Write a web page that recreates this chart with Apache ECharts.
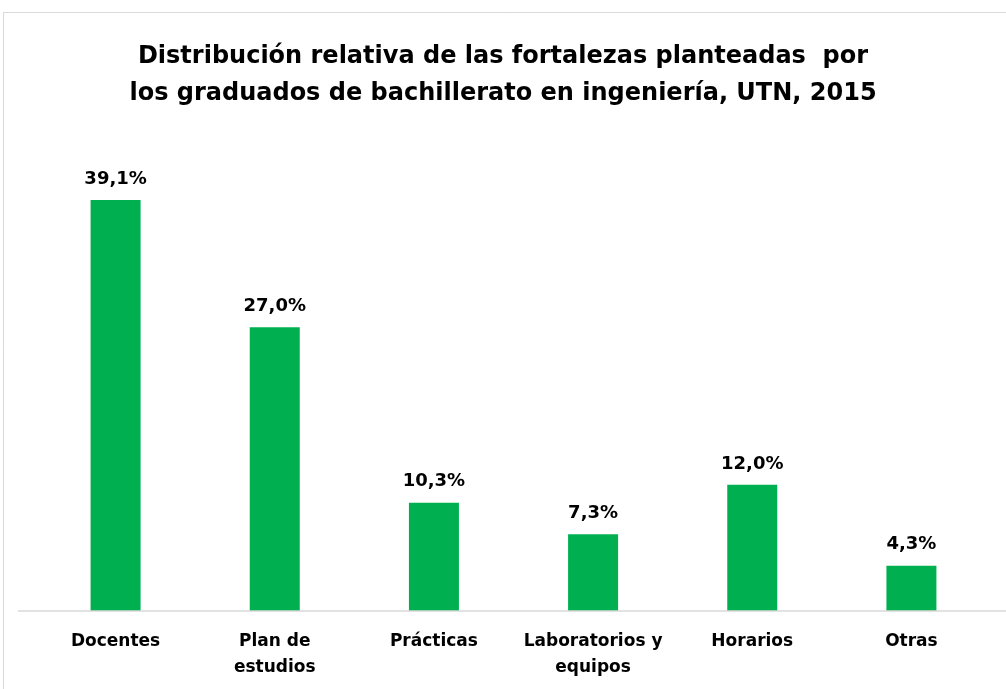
<!DOCTYPE html>
<html><head><meta charset="utf-8">
<script src="https://cdn.jsdelivr.net/npm/echarts@6/dist/echarts.min.js"></script>
<style>html,body{margin:0;padding:0;background:#fff}#c{width:1006px;height:689px}</style>
</head><body><div id="c"></div>
<script>
const categories = ['Docentes', 'Plan de\nestudios', 'Prácticas', 'Laboratorios y\nequipos', 'Horarios', 'Otras'];
const values = [39.1, 27.0, 10.3, 7.3, 12.0, 4.3];
const titleText = 'Distribución relativa de las fortalezas planteadas  por\nlos graduados de bachillerato en ingeniería, UTN, 2015';
const FONT = 'DejaVu Sans';
const chart = echarts.init(document.getElementById('c'), null, {renderer: 'canvas'});
chart.setOption({
  backgroundColor: '#fff',
  animation: false,
  graphic: [
    {type: 'rect', left: 1, top: 10, shape: {width: 1020, height: 700}, style: {fill: 'none', stroke: '#d9d9d9', lineWidth: 1}, z: -1},
    {type: 'line', shape: {x1: 18, y1: 611, x2: 1006, y2: 611}, style: {stroke: '#d9d9d9', lineWidth: 1.5}, z: 5}
  ],
  title: {
    text: titleText, left: 'center', top: 33,
    textStyle: {fontFamily: FONT, fontWeight: 'bold', fontSize: 24, color: '#000', lineHeight: 37}
  },
  grid: {left: 36, right: 15, top: 138, bottom: 78, containLabel: false},
  xAxis: {
    type: 'category', data: categories,
    axisLine: {show: false},
    axisTick: {show: false},
    axisLabel: {interval: 0, margin: 18, fontFamily: FONT, fontWeight: 'bold', fontSize: 17, color: '#000', lineHeight: 26}
  },
  yAxis: {type: 'value', min: 0, max: 45, show: false, splitLine: {show: false}},
  series: [{
    type: 'bar', data: values, barWidth: 50,
    itemStyle: {color: '#00B050'},
    label: {show: true, position: 'top', distance: 12, fontFamily: FONT, fontWeight: 'bold', fontSize: 18, color: '#000',
      formatter: p => p.value.toFixed(1).replace('.', ',') + '%'}
  }]
});
</script></body></html>
